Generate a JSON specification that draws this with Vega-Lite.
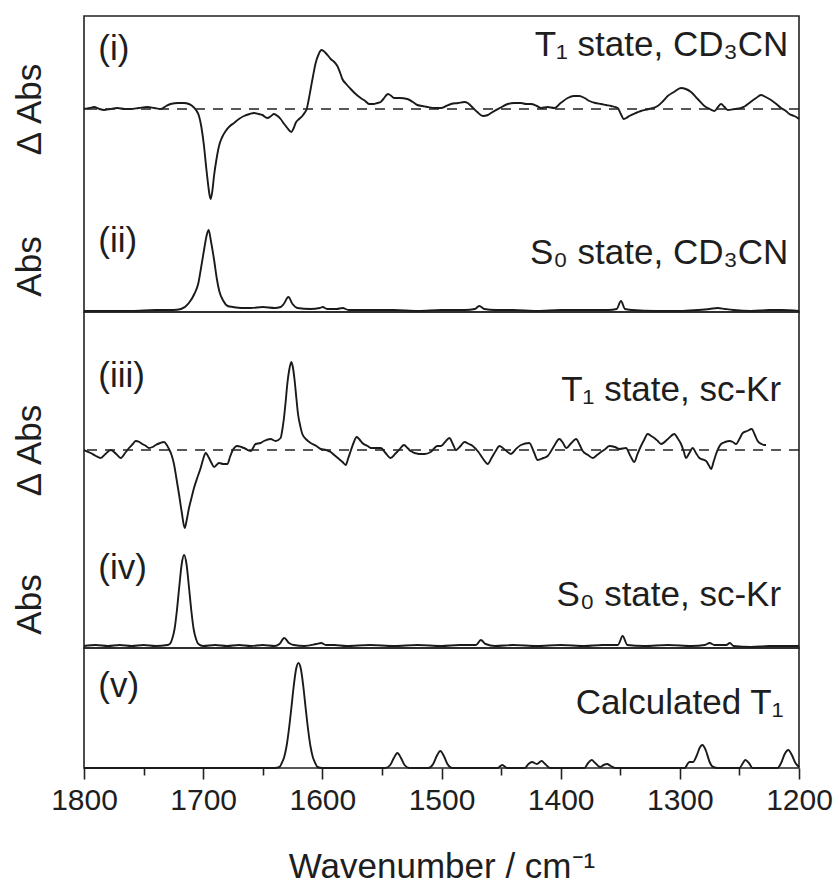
{
  "$schema": "https://vega.github.io/schema/vega-lite/v6.json",
  "background": "white",
  "padding": {"left": 11, "top": 15, "right": 36, "bottom": 8},
  "spacing": 0,
  "bounds": "flush",
  "config": {
    "font": "Liberation Sans",
    "view": {"stroke": "#222", "strokeWidth": 1.6},
    "text": {"font": "Liberation Sans", "fontSize": 35, "color": "#1e1e1e"},
    "axis": {"labelFont": "Liberation Sans", "titleFont": "Liberation Sans", "labelColor": "#1e1e1e", "titleColor": "#1e1e1e", "grid": false}
  },
  "datasets": {
    "s1": [
      {"wn":1800,"v":0.00},{"wn":1795,"v":0.01},{"wn":1791.6,"v":0.02},{"wn":1787,"v":0.00},{"wn":1783.2,"v":-0.01},{"wn":1778,"v":0.00},{"wn":1772,"v":0.01},{"wn":1766,"v":0.00},{"wn":1760.8,"v":0.00},{"wn":1754,"v":0.01},{"wn":1746.9,"v":0.02},{"wn":1741,"v":0.01},{"wn":1735.7,"v":0.00},{"wn":1731,"v":0.03},{"wn":1727.3,"v":0.05},{"wn":1721,"v":0.06},{"wn":1716.1,"v":0.06},{"wn":1712,"v":0.05},{"wn":1709.1,"v":0.03},{"wn":1706,"v":-0.01},{"wn":1703.5,"v":-0.07},{"wn":1701.5,"v":-0.18},{"wn":1699.3,"v":-0.37},{"wn":1697.5,"v":-0.58},{"wn":1696,"v":-0.74},{"wn":1694.8,"v":-0.85},{"wn":1693.7,"v":-0.90},{"wn":1692.3,"v":-0.82},{"wn":1690.9,"v":-0.67},{"wn":1688.8,"v":-0.50},{"wn":1686.7,"v":-0.37},{"wn":1684,"v":-0.28},{"wn":1681.1,"v":-0.22},{"wn":1677.5,"v":-0.17},{"wn":1674.1,"v":-0.14},{"wn":1670,"v":-0.10},{"wn":1665.7,"v":-0.07},{"wn":1661,"v":-0.05},{"wn":1657.3,"v":-0.04},{"wn":1653.5,"v":-0.05},{"wn":1650.3,"v":-0.06},{"wn":1646.2,"v":-0.09},{"wn":1643,"v":-0.07},{"wn":1640.6,"v":-0.05},{"wn":1637.5,"v":-0.07},{"wn":1635,"v":-0.10},{"wn":1632,"v":-0.15},{"wn":1629.4,"v":-0.19},{"wn":1626,"v":-0.23},{"wn":1624,"v":-0.19},{"wn":1622.4,"v":-0.14},{"wn":1619.5,"v":-0.10},{"wn":1616.8,"v":-0.07},{"wn":1615,"v":-0.04},{"wn":1613.1,"v":0.00},{"wn":1611.5,"v":0.09},{"wn":1609.8,"v":0.20},{"wn":1607.8,"v":0.33},{"wn":1605.6,"v":0.46},{"wn":1603,"v":0.55},{"wn":1600.8,"v":0.59},{"wn":1599,"v":0.58},{"wn":1597.2,"v":0.56},{"wn":1595,"v":0.53},{"wn":1593,"v":0.50},{"wn":1590,"v":0.47},{"wn":1587.4,"v":0.43},{"wn":1585,"v":0.36},{"wn":1583.2,"v":0.30},{"wn":1580,"v":0.25},{"wn":1576.2,"v":0.20},{"wn":1572,"v":0.15},{"wn":1567.8,"v":0.11},{"wn":1564,"v":0.08},{"wn":1560.8,"v":0.05},{"wn":1557,"v":0.05},{"wn":1553.8,"v":0.06},{"wn":1551,"v":0.07},{"wn":1548.8,"v":0.10},{"wn":1544.9,"v":0.15},{"wn":1542,"v":0.13},{"wn":1539.9,"v":0.11},{"wn":1535,"v":0.11},{"wn":1528.7,"v":0.10},{"wn":1524,"v":0.07},{"wn":1520.3,"v":0.04},{"wn":1516,"v":0.03},{"wn":1511.9,"v":0.02},{"wn":1505,"v":0.01},{"wn":1500.4,"v":0.01},{"wn":1496,"v":0.03},{"wn":1492,"v":0.05},{"wn":1486,"v":0.06},{"wn":1480.8,"v":0.07},{"wn":1478,"v":0.06},{"wn":1475.2,"v":0.03},{"wn":1470,"v":-0.03},{"wn":1465.4,"v":-0.07},{"wn":1461,"v":-0.06},{"wn":1458.4,"v":-0.04},{"wn":1451,"v":0.01},{"wn":1444.5,"v":0.05},{"wn":1439,"v":0.06},{"wn":1433.3,"v":0.06},{"wn":1429,"v":0.05},{"wn":1424.9,"v":0.05},{"wn":1420,"v":0.03},{"wn":1416.5,"v":0.01},{"wn":1411,"v":0.02},{"wn":1405.3,"v":0.01},{"wn":1400,"v":0.06},{"wn":1394.1,"v":0.11},{"wn":1389,"v":0.13},{"wn":1384.3,"v":0.13},{"wn":1380,"v":0.11},{"wn":1375.9,"v":0.08},{"wn":1371,"v":0.06},{"wn":1366.1,"v":0.05},{"wn":1362,"v":0.04},{"wn":1357.7,"v":0.03},{"wn":1352.1,"v":0.01},{"wn":1349.5,"v":-0.05},{"wn":1347.1,"v":-0.10},{"wn":1345,"v":-0.09},{"wn":1342.4,"v":-0.07},{"wn":1337,"v":-0.04},{"wn":1332.6,"v":-0.02},{"wn":1326,"v":0.00},{"wn":1318.6,"v":0.03},{"wn":1314,"v":0.08},{"wn":1310.2,"v":0.13},{"wn":1305,"v":0.17},{"wn":1299,"v":0.21},{"wn":1295,"v":0.20},{"wn":1290.6,"v":0.17},{"wn":1285,"v":0.10},{"wn":1279.4,"v":0.03},{"wn":1275,"v":0.00},{"wn":1271,"v":-0.02},{"wn":1268,"v":0.02},{"wn":1265.4,"v":0.05},{"wn":1262.5,"v":0.02},{"wn":1259.8,"v":-0.01},{"wn":1254,"v":0.00},{"wn":1248.6,"v":0.01},{"wn":1245,"v":0.03},{"wn":1241.7,"v":0.06},{"wn":1236,"v":0.11},{"wn":1231.9,"v":0.14},{"wn":1228,"v":0.12},{"wn":1223.5,"v":0.09},{"wn":1219,"v":0.05},{"wn":1215.1,"v":0.01},{"wn":1211,"v":-0.02},{"wn":1208.1,"v":-0.05},{"wn":1204,"v":-0.07},{"wn":1201.1,"v":-0.09},{"wn":1200,"v":-0.10}
    ],
    "s2": [
      {"wn":1800,"v":0.00},{"wn":1780,"v":0.00},{"wn":1760,"v":0.00},{"wn":1740,"v":0.01},{"wn":1730,"v":0.01},{"wn":1725,"v":0.01},{"wn":1718.6,"v":0.02},{"wn":1712,"v":0.08},{"wn":1707.4,"v":0.17},{"wn":1704,"v":0.28},{"wn":1701.8,"v":0.43},{"wn":1699,"v":0.63},{"wn":1697,"v":0.76},{"wn":1695.4,"v":0.81},{"wn":1693.5,"v":0.70},{"wn":1690.7,"v":0.50},{"wn":1688.5,"v":0.32},{"wn":1686.5,"v":0.20},{"wn":1683,"v":0.10},{"wn":1679.4,"v":0.05},{"wn":1675,"v":0.04},{"wn":1668,"v":0.03},{"wn":1660,"v":0.03},{"wn":1650,"v":0.04},{"wn":1640,"v":0.03},{"wn":1635,"v":0.04},{"wn":1632.4,"v":0.07},{"wn":1628.5,"v":0.14},{"wn":1625,"v":0.07},{"wn":1621,"v":0.03},{"wn":1610,"v":0.02},{"wn":1602,"v":0.03},{"wn":1599.7,"v":0.04},{"wn":1596,"v":0.02},{"wn":1588,"v":0.02},{"wn":1583,"v":0.03},{"wn":1578,"v":0.01},{"wn":1560,"v":0.01},{"wn":1540,"v":0.01},{"wn":1520,"v":0.00},{"wn":1500,"v":0.01},{"wn":1480,"v":0.01},{"wn":1472,"v":0.02},{"wn":1468.3,"v":0.05},{"wn":1464,"v":0.02},{"wn":1455,"v":0.01},{"wn":1440,"v":0.01},{"wn":1420,"v":0.00},{"wn":1400,"v":0.01},{"wn":1380,"v":0.01},{"wn":1360,"v":0.01},{"wn":1353,"v":0.02},{"wn":1349.4,"v":0.10},{"wn":1346,"v":0.02},{"wn":1340,"v":0.01},{"wn":1320,"v":0.00},{"wn":1300,"v":0.00},{"wn":1285,"v":0.01},{"wn":1275,"v":0.02},{"wn":1268.3,"v":0.03},{"wn":1262,"v":0.02},{"wn":1255,"v":0.01},{"wn":1240,"v":0.00},{"wn":1225,"v":0.01},{"wn":1215,"v":0.01},{"wn":1200,"v":0.00}
    ],
    "s3": [
      {"wn":1800,"v":0.00},{"wn":1794.4,"v":-0.03},{"wn":1790,"v":-0.06},{"wn":1786,"v":-0.08},{"wn":1782,"v":-0.04},{"wn":1777.6,"v":0.00},{"wn":1773,"v":-0.04},{"wn":1769.2,"v":-0.08},{"wn":1765.5,"v":-0.03},{"wn":1762.2,"v":0.02},{"wn":1759,"v":0.06},{"wn":1756.6,"v":0.09},{"wn":1753.5,"v":0.08},{"wn":1751,"v":0.06},{"wn":1748,"v":0.04},{"wn":1745.5,"v":0.02},{"wn":1742.5,"v":0.03},{"wn":1739.9,"v":0.05},{"wn":1736,"v":0.07},{"wn":1732.9,"v":0.08},{"wn":1730.5,"v":0.05},{"wn":1728.7,"v":0.01},{"wn":1726.5,"v":-0.05},{"wn":1724.5,"v":-0.14},{"wn":1722.5,"v":-0.28},{"wn":1720.3,"v":-0.44},{"wn":1718,"v":-0.62},{"wn":1715.5,"v":-0.78},{"wn":1713.8,"v":-0.70},{"wn":1711.9,"v":-0.58},{"wn":1709.8,"v":-0.48},{"wn":1707.7,"v":-0.38},{"wn":1705,"v":-0.28},{"wn":1702.1,"v":-0.18},{"wn":1700,"v":-0.09},{"wn":1697.9,"v":-0.03},{"wn":1695.1,"v":-0.08},{"wn":1693,"v":-0.13},{"wn":1690.9,"v":-0.17},{"wn":1688.8,"v":-0.15},{"wn":1686.7,"v":-0.13},{"wn":1683,"v":-0.14},{"wn":1679.7,"v":-0.14},{"wn":1677.5,"v":-0.07},{"wn":1675.5,"v":-0.01},{"wn":1671.3,"v":0.04},{"wn":1668,"v":0.03},{"wn":1665.7,"v":0.02},{"wn":1660.1,"v":-0.01},{"wn":1656,"v":0.06},{"wn":1652,"v":0.07},{"wn":1649,"v":0.09},{"wn":1643.4,"v":0.11},{"wn":1639.2,"v":0.09},{"wn":1635,"v":0.12},{"wn":1633.6,"v":0.20},{"wn":1632.2,"v":0.32},{"wn":1630.8,"v":0.48},{"wn":1629.4,"v":0.66},{"wn":1627.8,"v":0.80},{"wn":1626,"v":0.88},{"wn":1624.6,"v":0.82},{"wn":1623.2,"v":0.69},{"wn":1621.8,"v":0.52},{"wn":1620.4,"v":0.36},{"wn":1618.5,"v":0.24},{"wn":1616.8,"v":0.16},{"wn":1613,"v":0.10},{"wn":1609.8,"v":0.07},{"wn":1605,"v":0.04},{"wn":1601.4,"v":0.01},{"wn":1597,"v":0.00},{"wn":1593,"v":-0.02},{"wn":1590,"v":-0.05},{"wn":1586,"v":-0.09},{"wn":1583,"v":-0.12},{"wn":1580.4,"v":-0.15},{"wn":1578.2,"v":-0.08},{"wn":1576.2,"v":-0.01},{"wn":1573.5,"v":0.08},{"wn":1571.2,"v":0.13},{"wn":1568.5,"v":0.10},{"wn":1566.4,"v":0.07},{"wn":1562,"v":0.04},{"wn":1559.4,"v":0.02},{"wn":1555,"v":0.02},{"wn":1551,"v":0.02},{"wn":1547,"v":-0.03},{"wn":1542.7,"v":-0.08},{"wn":1539,"v":-0.04},{"wn":1535.7,"v":0.00},{"wn":1531.5,"v":0.05},{"wn":1528.5,"v":0.02},{"wn":1525.9,"v":-0.01},{"wn":1518.9,"v":-0.04},{"wn":1514,"v":-0.04},{"wn":1509.1,"v":-0.02},{"wn":1503.5,"v":0.04},{"wn":1500.4,"v":0.04},{"wn":1497,"v":0.08},{"wn":1493.4,"v":0.12},{"wn":1490.5,"v":0.06},{"wn":1487.8,"v":0.00},{"wn":1484,"v":0.04},{"wn":1480.8,"v":0.08},{"wn":1477,"v":0.06},{"wn":1473.8,"v":0.04},{"wn":1469,"v":-0.02},{"wn":1465,"v":-0.09},{"wn":1461.2,"v":-0.14},{"wn":1458,"v":-0.08},{"wn":1454.5,"v":-0.01},{"wn":1451.4,"v":0.04},{"wn":1446.5,"v":0.00},{"wn":1441.7,"v":-0.04},{"wn":1437.5,"v":0.01},{"wn":1433.3,"v":0.05},{"wn":1426.3,"v":0.07},{"wn":1422.5,"v":-0.02},{"wn":1419.3,"v":-0.10},{"wn":1414.5,"v":-0.08},{"wn":1410.9,"v":-0.06},{"wn":1406,"v":0.03},{"wn":1401.1,"v":0.11},{"wn":1398,"v":0.07},{"wn":1395.5,"v":0.02},{"wn":1391,"v":0.07},{"wn":1387.1,"v":0.11},{"wn":1384,"v":0.05},{"wn":1381.5,"v":-0.01},{"wn":1377,"v":-0.05},{"wn":1373.1,"v":-0.08},{"wn":1369.5,"v":-0.05},{"wn":1366.1,"v":-0.02},{"wn":1362.5,"v":0.01},{"wn":1359.1,"v":0.04},{"wn":1354.5,"v":0.03},{"wn":1350.7,"v":0.01},{"wn":1345.2,"v":0.02},{"wn":1341.5,"v":-0.06},{"wn":1338.2,"v":-0.12},{"wn":1335.5,"v":-0.04},{"wn":1332.6,"v":0.04},{"wn":1330,"v":0.10},{"wn":1327,"v":0.16},{"wn":1324,"v":0.14},{"wn":1321.4,"v":0.12},{"wn":1318.5,"v":0.09},{"wn":1315.8,"v":0.06},{"wn":1310,"v":0.11},{"wn":1304.6,"v":0.16},{"wn":1302,"v":0.12},{"wn":1299,"v":0.06},{"wn":1296.8,"v":-0.01},{"wn":1294.8,"v":-0.08},{"wn":1292,"v":-0.03},{"wn":1289.2,"v":0.02},{"wn":1286.5,"v":-0.03},{"wn":1283.6,"v":-0.08},{"wn":1278,"v":-0.11},{"wn":1275.8,"v":-0.15},{"wn":1273.8,"v":-0.19},{"wn":1271.5,"v":-0.11},{"wn":1269.6,"v":-0.04},{"wn":1265.4,"v":0.06},{"wn":1262,"v":0.08},{"wn":1258.4,"v":0.09},{"wn":1255.5,"v":0.08},{"wn":1252.8,"v":0.06},{"wn":1250,"v":0.11},{"wn":1247.2,"v":0.17},{"wn":1243.5,"v":0.19},{"wn":1239.7,"v":0.21},{"wn":1237,"v":0.15},{"wn":1234.7,"v":0.09},{"wn":1231.5,"v":0.06},{"wn":1229.1,"v":0.05},{"wn":1227.7,"v":0.05}
    ],
    "s4": [
      {"wn":1800,"v":0.00},{"wn":1790,"v":0.01},{"wn":1780,"v":0.00},{"wn":1770,"v":0.01},{"wn":1760,"v":0.00},{"wn":1750,"v":0.01},{"wn":1740,"v":0.00},{"wn":1730,"v":0.01},{"wn":1728,"v":0.02},{"wn":1726,"v":0.07},{"wn":1724,"v":0.17},{"wn":1722,"v":0.36},{"wn":1720,"v":0.60},{"wn":1718,"v":0.82},{"wn":1716,"v":0.91},{"wn":1714,"v":0.82},{"wn":1712,"v":0.60},{"wn":1710,"v":0.36},{"wn":1708,"v":0.17},{"wn":1706,"v":0.07},{"wn":1704,"v":0.02},{"wn":1700,"v":0.00},{"wn":1690,"v":0.01},{"wn":1680,"v":0.00},{"wn":1670,"v":0.01},{"wn":1660,"v":0.00},{"wn":1650,"v":0.01},{"wn":1640,"v":0.00},{"wn":1636,"v":0.02},{"wn":1632,"v":0.08},{"wn":1628,"v":0.03},{"wn":1624,"v":0.01},{"wn":1615,"v":0.00},{"wn":1605,"v":0.02},{"wn":1601,"v":0.03},{"wn":1597,"v":0.01},{"wn":1590,"v":0.01},{"wn":1580,"v":0.00},{"wn":1560,"v":0.01},{"wn":1540,"v":0.00},{"wn":1520,"v":0.01},{"wn":1500,"v":0.00},{"wn":1485,"v":0.01},{"wn":1471,"v":0.01},{"wn":1467,"v":0.06},{"wn":1463,"v":0.02},{"wn":1455,"v":0.00},{"wn":1440,"v":0.01},{"wn":1420,"v":0.00},{"wn":1400,"v":0.01},{"wn":1380,"v":0.00},{"wn":1365,"v":0.01},{"wn":1352,"v":0.01},{"wn":1348,"v":0.10},{"wn":1344,"v":0.01},{"wn":1330,"v":0.00},{"wn":1310,"v":0.01},{"wn":1290,"v":0.00},{"wn":1279,"v":0.01},{"wn":1275,"v":0.03},{"wn":1271,"v":0.01},{"wn":1261,"v":0.01},{"wn":1258,"v":0.03},{"wn":1255,"v":0.00},{"wn":1240,"v":-0.01},{"wn":1225,"v":0.00},{"wn":1210,"v":0.00},{"wn":1200,"v":0.00}
    ],
    "s5": [
      {"wn":1800,"v":0.00},{"wn":1700,"v":0.00},{"wn":1640,"v":0.00},{"wn":1636,"v":0.01},{"wn":1634,"v":0.05},{"wn":1632,"v":0.11},{"wn":1630,"v":0.22},{"wn":1628,"v":0.39},{"wn":1626,"v":0.60},{"wn":1624,"v":0.82},{"wn":1622,"v":0.99},{"wn":1620,"v":1.05},{"wn":1618,"v":0.99},{"wn":1616,"v":0.82},{"wn":1614,"v":0.60},{"wn":1612,"v":0.39},{"wn":1610,"v":0.22},{"wn":1608,"v":0.11},{"wn":1606,"v":0.05},{"wn":1604,"v":0.01},{"wn":1600,"v":0.00},{"wn":1547,"v":0.00},{"wn":1543,"v":0.03},{"wn":1540,"v":0.10},{"wn":1537,"v":0.15},{"wn":1534,"v":0.10},{"wn":1531,"v":0.03},{"wn":1527,"v":0.00},{"wn":1511,"v":0.00},{"wn":1507,"v":0.04},{"wn":1504,"v":0.12},{"wn":1501,"v":0.17},{"wn":1498,"v":0.12},{"wn":1495,"v":0.04},{"wn":1491,"v":0.00},{"wn":1453,"v":0.00},{"wn":1449,"v":0.03},{"wn":1445,"v":0.00},{"wn":1430,"v":0.00},{"wn":1427,"v":0.04},{"wn":1424,"v":0.06},{"wn":1420,"v":0.04},{"wn":1416,"v":0.07},{"wn":1413,"v":0.04},{"wn":1409,"v":0.00},{"wn":1380,"v":0.00},{"wn":1377,"v":0.05},{"wn":1374,"v":0.08},{"wn":1371,"v":0.05},{"wn":1367,"v":0.01},{"wn":1364,"v":0.03},{"wn":1361,"v":0.04},{"wn":1358,"v":0.02},{"wn":1354,"v":0.00},{"wn":1296,"v":0.00},{"wn":1292,"v":0.06},{"wn":1289,"v":0.06},{"wn":1286,"v":0.12},{"wn":1283,"v":0.21},{"wn":1281,"v":0.23},{"wn":1278,"v":0.17},{"wn":1275,"v":0.06},{"wn":1272,"v":0.01},{"wn":1268,"v":0.00},{"wn":1250,"v":0.00},{"wn":1247,"v":0.05},{"wn":1245,"v":0.08},{"wn":1242,"v":0.05},{"wn":1239,"v":0.00},{"wn":1218,"v":0.00},{"wn":1215,"v":0.05},{"wn":1212,"v":0.14},{"wn":1209,"v":0.18},{"wn":1206,"v":0.13},{"wn":1203,"v":0.05},{"wn":1200,"v":0.01}
    ],
    "one": [{}]
  },
  "vconcat": [
    {
      "width": 715, "height": 296,
      "layer": [
        {"data": {"name": "s1"}, "mark": {"type": "line", "strokeWidth": 1.9, "color": "#1a1a1a", "interpolate": "monotone"},
         "encoding": {
           "x": {"field": "wn", "type": "quantitative", "scale": {"domain": [1200, 1800], "reverse": true, "nice": false, "zero": false}, "axis": null},
           "y": {"field": "v", "type": "quantitative", "scale": {"domain": [-2.03, 0.93], "nice": false, "zero": false},
                 "axis": {"orient": "left", "values": [0, -1.57], "labelExpr": "datum.value > -0.5 ? 'Δ Abs' : 'Abs'", "ticks": false, "domain": false, "title": null, "labelAngle": 270, "labelAlign": "center", "labelBaseline": "alphabetic", "labelFontSize": 35, "labelPadding": 44, "labelOverlap": false, "labelBound": false, "labelFlush": false}}
         }},
        {"data": {"name": "one"}, "mark": {"type": "rule", "strokeDash": [10, 8], "strokeWidth": 1.7, "color": "#222"},
         "encoding": {"y": {"datum": 0, "type": "quantitative", "scale": {"domain": [-2.03, 0.93], "nice": false, "zero": false}, "axis": null}}},
        {"data": {"name": "one"}, "mark": {"type": "text", "align": "left", "baseline": "middle"},
         "encoding": {"x": {"datum": 1788, "type": "quantitative", "axis": null}, "y": {"datum": 0.6, "type": "quantitative", "scale": {"domain": [-2.03, 0.93], "nice": false, "zero": false}, "axis": null}, "text": {"value": "(i)"}}},
        {"data": {"name": "one"}, "mark": {"type": "text", "align": "right", "baseline": "alphabetic"},
         "encoding": {"x": {"datum": 1209, "type": "quantitative", "axis": null}, "y": {"datum": 0.53, "type": "quantitative", "scale": {"domain": [-2.03, 0.93], "nice": false, "zero": false}, "axis": null}, "text": {"value": "T₁ state, CD₃CN"}}},
        {"data": {"name": "s2"}, "mark": {"type": "line", "strokeWidth": 1.9, "color": "#1a1a1a", "interpolate": "monotone"},
         "encoding": {
           "x": {"field": "wn", "type": "quantitative", "axis": null},
           "y": {"field": "v", "type": "quantitative", "scale": {"domain": [-0.01, 2.95], "nice": false, "zero": false}, "axis": null}
         }},
        {"data": {"name": "one"}, "mark": {"type": "text", "align": "left", "baseline": "middle"},
         "encoding": {"x": {"datum": 1788, "type": "quantitative", "axis": null}, "y": {"datum": 0.70, "type": "quantitative", "scale": {"domain": [-0.01, 2.95], "nice": false, "zero": false}, "axis": null}, "text": {"value": "(ii)"}}},
        {"data": {"name": "one"}, "mark": {"type": "text", "align": "right", "baseline": "alphabetic"},
         "encoding": {"x": {"datum": 1209, "type": "quantitative", "axis": null}, "y": {"datum": 0.47, "type": "quantitative", "scale": {"domain": [-0.01, 2.95], "nice": false, "zero": false}, "axis": null}, "text": {"value": "S₀ state, CD₃CN"}}}
      ],
      "resolve": {"scale": {"y": "independent"}}
    },
    {
      "width": 715, "height": 336,
      "layer": [
        {"data": {"name": "s3"}, "mark": {"type": "line", "strokeWidth": 1.9, "color": "#1a1a1a", "interpolate": "monotone"},
         "encoding": {
           "x": {"field": "wn", "type": "quantitative", "scale": {"domain": [1200, 1800], "reverse": true, "nice": false, "zero": false}, "axis": null},
           "y": {"field": "v", "type": "quantitative", "scale": {"domain": [-1.98, 1.38], "nice": false, "zero": false},
                 "axis": {"orient": "left", "values": [0, -1.54], "labelExpr": "datum.value > -0.5 ? 'Δ Abs' : 'Abs'", "ticks": false, "domain": false, "title": null, "labelAngle": 270, "labelAlign": "center", "labelBaseline": "alphabetic", "labelFontSize": 35, "labelPadding": 44, "labelOverlap": false, "labelBound": false, "labelFlush": false}}
         }},
        {"data": {"name": "one"}, "mark": {"type": "rule", "strokeDash": [10, 8], "strokeWidth": 1.7, "color": "#222"},
         "encoding": {"y": {"datum": 0, "type": "quantitative", "scale": {"domain": [-1.98, 1.38], "nice": false, "zero": false}, "axis": null}}},
        {"data": {"name": "one"}, "mark": {"type": "text", "align": "left", "baseline": "middle"},
         "encoding": {"x": {"datum": 1788, "type": "quantitative", "axis": null}, "y": {"datum": 0.74, "type": "quantitative", "scale": {"domain": [-1.98, 1.38], "nice": false, "zero": false}, "axis": null}, "text": {"value": "(iii)"}}},
        {"data": {"name": "one"}, "mark": {"type": "text", "align": "right", "baseline": "alphabetic"},
         "encoding": {"x": {"datum": 1215, "type": "quantitative", "axis": null}, "y": {"datum": 0.49, "type": "quantitative", "scale": {"domain": [-1.98, 1.38], "nice": false, "zero": false}, "axis": null}, "text": {"value": "T₁ state, sc-Kr"}}},
        {"data": {"name": "s4"}, "mark": {"type": "line", "strokeWidth": 1.9, "color": "#1a1a1a", "interpolate": "monotone"},
         "encoding": {
           "x": {"field": "wn", "type": "quantitative", "axis": null},
           "y": {"field": "v", "type": "quantitative", "scale": {"domain": [-0.02, 3.34], "nice": false, "zero": false}, "axis": null}
         }},
        {"data": {"name": "one"}, "mark": {"type": "text", "align": "left", "baseline": "middle"},
         "encoding": {"x": {"datum": 1788, "type": "quantitative", "axis": null}, "y": {"datum": 0.78, "type": "quantitative", "scale": {"domain": [-0.02, 3.34], "nice": false, "zero": false}, "axis": null}, "text": {"value": "(iv)"}}},
        {"data": {"name": "one"}, "mark": {"type": "text", "align": "right", "baseline": "alphabetic"},
         "encoding": {"x": {"datum": 1215, "type": "quantitative", "axis": null}, "y": {"datum": 0.40, "type": "quantitative", "scale": {"domain": [-0.02, 3.34], "nice": false, "zero": false}, "axis": null}, "text": {"value": "S₀ state, sc-Kr"}}}
      ],
      "resolve": {"scale": {"y": "independent"}}
    },
    {
      "width": 715, "height": 120,
      "layer": [
        {"data": {"name": "s5"}, "mark": {"type": "line", "strokeWidth": 1.9, "color": "#1a1a1a", "interpolate": "monotone"},
         "encoding": {
           "x": {"field": "wn", "type": "quantitative", "scale": {"domain": [1200, 1800], "reverse": true, "nice": false, "zero": false},
                 "axis": {"orient": "bottom", "values": [1800, 1700, 1600, 1500, 1400, 1300, 1200], "format": "d", "domain": false, "ticks": true, "tickSize": 11, "tickWidth": 1.6, "tickColor": "#222", "labelFontSize": 30, "labelPadding": 6, "labelFlush": false, "labelOverlap": false, "title": "Wavenumber / cm⁻¹", "titleFontSize": 35, "titleFontWeight": "normal", "titlePadding": 34}},
           "y": {"field": "v", "type": "quantitative", "scale": {"domain": [0, 1.2], "nice": false, "zero": false}, "axis": null}
         }},
        {"data": {"name": "one"}, "mark": {"type": "text", "align": "left", "baseline": "middle"},
         "encoding": {"x": {"datum": 1788, "type": "quantitative",
                            "axis": {"orient": "bottom", "values": [1750, 1650, 1550, 1450, 1350, 1250], "domain": false, "labels": false, "ticks": true, "tickSize": 7, "tickWidth": 1.6, "tickColor": "#222", "title": null}},
                      "y": {"datum": 0.82, "type": "quantitative", "axis": null}, "text": {"value": "(v)"}}},
        {"data": {"name": "one"}, "mark": {"type": "text", "align": "right", "baseline": "alphabetic"},
         "encoding": {"x": {"datum": 1213, "type": "quantitative", "axis": null}, "y": {"datum": 0.54, "type": "quantitative", "axis": null}, "text": {"value": "Calculated T₁"}}}
      ],
      "resolve": {"axis": {"x": "independent"}}
    }
  ]
}
